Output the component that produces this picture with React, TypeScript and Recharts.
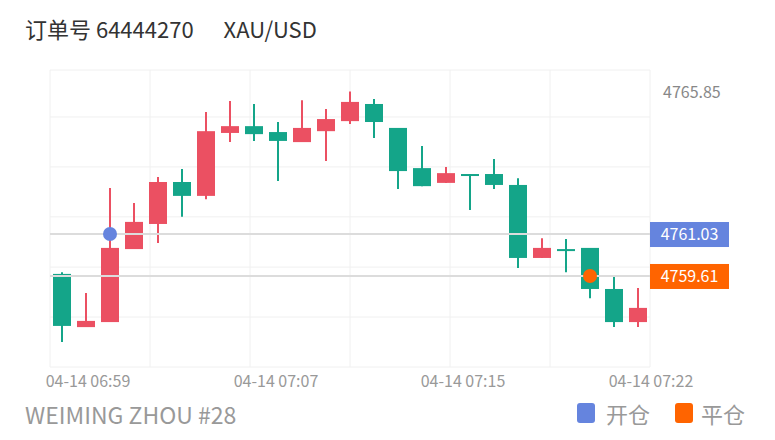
import React from 'react';
import {
  ComposedChart,
  Bar,
  XAxis,
  YAxis,
  CartesianGrid,
  ReferenceLine,
  ReferenceDot,
} from 'recharts';

// one-minute candles
const times = [
  '04-14 06:58', '04-14 06:59', '04-14 07:00', '04-14 07:01', '04-14 07:02',
  '04-14 07:03', '04-14 07:04', '04-14 07:05', '04-14 07:06', '04-14 07:07',
  '04-14 07:08', '04-14 07:09', '04-14 07:10', '04-14 07:11', '04-14 07:12',
  '04-14 07:13', '04-14 07:14', '04-14 07:15', '04-14 07:16', '04-14 07:17',
  '04-14 07:18', '04-14 07:19', '04-14 07:20', '04-14 07:21', '04-14 07:22',
];
const opens = [
  4759.68, 4757.88, 4758.05, 4760.52, 4761.37, 4762.79, 4762.32, 4764.45, 4764.68, 4764.48,
  4764.14, 4764.51, 4764.85, 4765.43, 4764.62, 4763.26, 4762.76, 4763.06, 4763.06, 4762.69,
  4760.22, 4760.52, 4760.56, 4759.17, 4758.05,
];
const closes = [
  4757.92, 4758.09, 4760.56, 4761.44, 4762.79, 4762.32, 4764.51, 4764.68, 4764.41, 4764.18,
  4764.62, 4764.92, 4765.50, 4764.82, 4763.16, 4762.65, 4763.09, 4763.03, 4762.69, 4760.22,
  4760.56, 4760.49, 4759.17, 4758.05, 4758.53,
];
const highs = [
  4759.74, 4759.03, 4762.59, 4762.08, 4762.96, 4763.23, 4765.16, 4765.53, 4765.43, 4764.82,
  4765.56, 4765.26, 4765.85, 4765.60, 4764.62, 4764.01, 4763.30, 4763.06, 4763.57, 4762.92,
  4760.89, 4760.86, 4760.56, 4759.61, 4759.20,
];
const lows = [
  4757.38, 4757.88, 4758.05, 4760.52, 4760.73, 4761.61, 4762.21, 4764.14, 4764.18, 4762.82,
  4764.14, 4763.50, 4764.75, 4764.28, 4762.55, 4762.65, 4762.76, 4761.84, 4762.55, 4759.88,
  4760.22, 4759.74, 4758.86, 4757.88, 4757.88,
];

const xLabels = ['04-14 06:59', '04-14 07:07', '04-14 07:15', '04-14 07:22'];
const labelShift = [2, -2, -7, 13];
const yTicks = [4756.53, 4758.22, 4759.91, 4761.61, 4763.30, 4764.99, 4766.58];
const gridSteps = [0, 1, 2, 3, 4, 5, 6];

const maxPrice = 4765.85;
const openPrice = 4761.03;
const closePrice = 4759.61;
const openTime = times[2];
const closeTime = times[22];

const UP = '#eb5062';
const DOWN = '#14a589';
const OPEN_COLOR = '#6584de';
const CLOSE_COLOR = '#ff6400';

const data = times.map((t, i) => ({
  time: t,
  open: opens[i],
  close: closes[i],
  high: highs[i],
  low: lows[i],
}));

function Candle(props: any) {
  const { x, y, width, height, payload } = props;
  const { open, close, high, low } = payload;
  const color = close >= open ? UP : DOWN;
  const h = Math.abs(height);
  const top = height >= 0 ? y : y + height;
  const ratio = high === low ? 0 : h / (high - low);
  const bodyTop = top + (high - Math.max(open, close)) * ratio;
  const bodyH = Math.max(2, Math.abs(open - close) * ratio);
  const cx = x + width / 2;
  return (
    <g>
      <line x1={cx} x2={cx} y1={top} y2={top + h} stroke={color} strokeWidth={2} />
      <rect x={x} y={bodyTop} width={width} height={bodyH} fill={color} />
    </g>
  );
}

function TimeTick(props: any) {
  const { x, y, payload } = props;
  const i = xLabels.indexOf(payload.value);
  return (
    <text x={x + (labelShift[i] || 0)} y={y + 12} textAnchor="middle" fill="#999" fontSize={16}>
      {payload.value}
    </text>
  );
}

function PriceTag(props: any) {
  const { viewBox, value, fill } = props;
  const right = viewBox.x + viewBox.width;
  return (
    <g>
      <rect x={right} y={viewBox.y - 12} width={79} height={25} fill={fill} />
      <text x={right + 39.5} y={viewBox.y + 6} textAnchor="middle" fill="#fff" fontSize={16}>
        {value}
      </text>
    </g>
  );
}

function MaxTag(props: any) {
  const { viewBox } = props;
  return (
    <text x={viewBox.x + viewBox.width + 13} y={viewBox.y + 6} fill="#888" fontSize={16}>
      {maxPrice.toFixed(2)}
    </text>
  );
}

export default function App() {
  const font = "'Noto Sans CJK SC', 'Noto Sans', sans-serif";
  return (
    <div style={{ position: 'absolute', left: 0, top: 0, width: 775, height: 440, background: '#fff', fontFamily: font }}>
      <div style={{ position: 'absolute', left: 25, top: 12, fontSize: 22, lineHeight: '32px', color: '#333', whiteSpace: 'pre' }}>
        <span>订单号 64444270</span>
        <span style={{ marginLeft: 30 }}>XAU/USD</span>
      </div>

      <ComposedChart
        width={775}
        height={440}
        data={data}
        margin={{ top: 70, right: 125, left: 50, bottom: 43 }}
        style={{ fontFamily: font }}
      >
        <CartesianGrid
          stroke="#f0f0f0"
          verticalCoordinatesGenerator={({ offset }: any) =>
            gridSteps.map((s) => offset.left + (s * offset.width) / (gridSteps.length - 1))
          }
        />
        <XAxis
          dataKey="time"
          ticks={xLabels}
          interval={0}
          tick={<TimeTick />}
          tickLine={false}
          axisLine={false}
          height={30}
        />
        <YAxis
          domain={[yTicks[0], yTicks[yTicks.length - 1]]}
          ticks={yTicks}
          allowDataOverflow
          hide
        />
        <Bar
          dataKey={(d: any) => [d.low, d.high]}
          barSize={18}
          shape={<Candle />}
          isAnimationActive={false}
        />
        <ReferenceLine y={maxPrice} stroke="none" label={<MaxTag />} />
        <ReferenceLine
          y={openPrice}
          stroke="#dcdcdc"
          strokeWidth={2}
          label={<PriceTag value={openPrice.toFixed(2)} fill={OPEN_COLOR} />}
        />
        <ReferenceLine
          y={closePrice}
          stroke="#dcdcdc"
          strokeWidth={2}
          label={<PriceTag value={closePrice.toFixed(2)} fill={CLOSE_COLOR} />}
        />
        <ReferenceDot x={openTime} y={openPrice} r={7} fill={OPEN_COLOR} stroke="none" />
        <ReferenceDot x={closeTime} y={closePrice} r={7} fill={CLOSE_COLOR} stroke="none" />
      </ComposedChart>

      <div style={{ position: 'absolute', left: 25, top: 398, fontSize: 23, lineHeight: '32px', color: '#999' }}>
        WEIMING ZHOU #28
      </div>
      <div style={{ position: 'absolute', left: 577, top: 397, display: 'flex', alignItems: 'center', fontSize: 22, lineHeight: '32px', color: '#999' }}>
        <span style={{ display: 'inline-block', width: 18, height: 20, borderRadius: 3, background: OPEN_COLOR, marginRight: 11 }} />
        <span>开仓</span>
        <span style={{ display: 'inline-block', width: 18, height: 20, borderRadius: 3, background: CLOSE_COLOR, marginLeft: 25, marginRight: 8 }} />
        <span>平仓</span>
      </div>
    </div>
  );
}
